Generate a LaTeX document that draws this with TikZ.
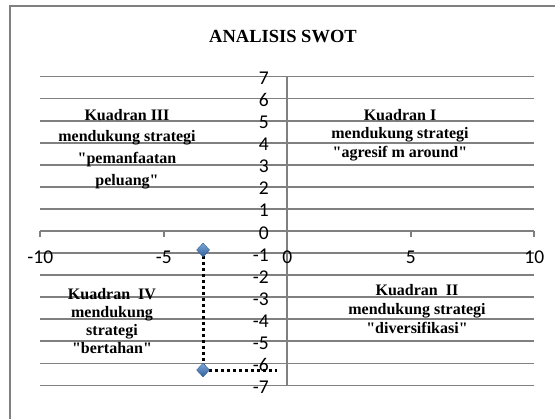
\documentclass[tikz,border=0pt]{standalone}
\usepackage{fontspec}
\setmainfont{Liberation Serif}
\newfontfamily\qfont{Liberation Serif}
\newfontfamily\axisfont{Carlito}
\usetikzlibrary{shapes.geometric}
\definecolor{gridgray}{HTML}{808080}
\definecolor{marklight}{HTML}{7FA8DC}
\definecolor{markdark}{HTML}{2F5E98}
\tikzset{
  gridline/.style={draw=gridgray, line width=1.8pt},
  framebox/.style={draw=gridgray, line width=1.8pt},
  axlabel/.style={font=\axisfont\fontsize{19.5}{20}\selectfont, inner sep=0pt, text=black},
  quadtext/.style={font=\qfont\bfseries\fontsize{16}{18.7}\selectfont, align=center, inner sep=0pt},
  titletext/.style={font=\bfseries\fontsize{18.5}{20}\selectfont, inner sep=0pt},
  marker/.style={diamond, minimum width=13pt, minimum height=14pt, inner sep=0pt,
    top color=marklight, bottom color=markdark, draw=markdark, line width=0.4pt},
  dotline/.style={line width=3pt, dash pattern=on 3pt off 3pt, black},
}
\begin{document}
\begin{tikzpicture}
\useasboundingbox (0,0) rectangle (555pt,-419pt);
\draw[framebox] (10pt,-430pt) -- (10pt,-6pt) -- (565pt,-6pt);
\node[titletext] (title) at (283pt,-37pt) {ANALISIS SWOT};
\begin{scope}[shift={(287.3pt,-231pt)}, x=24.7pt, y=22.07pt]
  \foreach \k in {-7,...,7} \draw[gridline] (-10,\k) -- (10,\k);
  \draw[gridline] (0,-7) -- (0,7);
  \foreach \t in {-10,-5,0,5,10} \draw[gridline] (\t,0) -- (\t,-0.25);
  \foreach \k [count=\i] in {-7,...,7}
    \node[axlabel, anchor=east] (ylab\i) at (-0.74,\k-0.08) {\k};
  \foreach \t [count=\i] in {-10,-5,0,5,10}
    \node[axlabel] (xlab\i) at (\t,-1.18) {\t};
  \coordinate (p1) at (-3.41,-0.86);
  \coordinate (p2) at (-3.41,-6.30);
  \coordinate (p3) at (-0.42,-6.30);
  \draw[dotline] (p1) -- (p2) -- (p3);
  \node[marker] (m1) at (p1) {};
  \node[marker] (m2) at (p2) {};
\end{scope}
\node[quadtext, font=\qfont\bfseries\fontsize{16}{21.7}\selectfont] (q3) at (127pt,-149pt)
  {Kuadran III\\mendukung strategi\\"pemanfaatan\\peluang"};
\node[quadtext] (q1) at (400pt,-135pt)
  {Kuadran I\\mendukung strategi\\"agresif m around"};
\node[quadtext] (q2) at (417pt,-309pt)
  {Kuadran\ \ II\\mendukung strategi\\"diversifikasi"};
\node[quadtext, font=\qfont\bfseries\fontsize{16}{18}\selectfont] (q4) at (112pt,-321pt)
  {Kuadran\ \ IV\\mendukung\\strategi\\"bertahan"};
\end{tikzpicture}
\end{document}
